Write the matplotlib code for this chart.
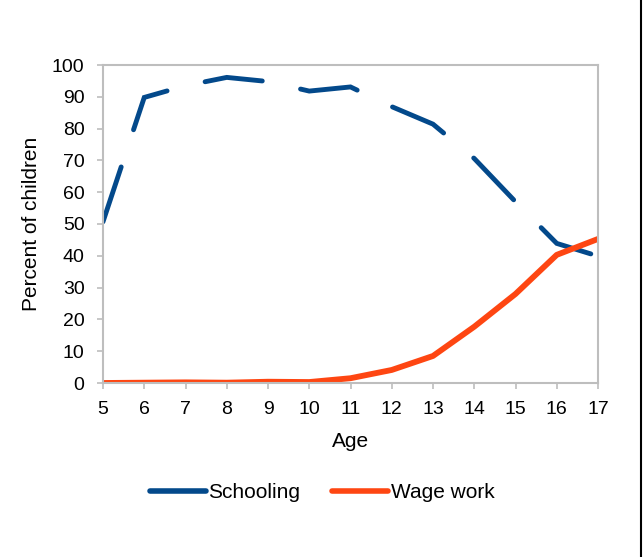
import matplotlib
matplotlib.use('Agg')
import matplotlib.pyplot as plt
from matplotlib.lines import Line2D

ages = [5, 6, 7, 8, 9, 10, 11, 12, 13, 14, 15, 16, 17]
schooling = [50.7, 89.8, 93.5, 96.1, 94.8, 91.8, 93.1, 86.9, 81.4, 70.6, 57.0, 43.9, 39.9]
wage_work = [0.0, 0.1, 0.2, 0.1, 0.4, 0.3, 1.5, 4.1, 8.5, 17.7, 28.0, 40.3, 45.3]

BLUE = '#03498B'
ORANGE = '#FE4612'
GRID = '#BEBEBE'

plt.rcParams['font.family'] = ['Liberation Sans', 'DejaVu Sans']
plt.rcParams['lines.scale_dashes'] = False

fig = plt.figure(figsize=(6.43, 5.57), dpi=100)
ax = fig.add_axes([103/643, 1 - 383/557, 495/643, 318/557])

ax.plot(ages, schooling, color=BLUE, lw=3.5, ls=(0, (41.6, 28.2)),
        dash_capstyle='round', dash_joinstyle='miter', label='Schooling')
ax.plot(ages, wage_work, color=ORANGE, lw=4.2, solid_capstyle='butt',
        label='Wage work')

ax.set_xlim(5, 17)
ax.set_ylim(0, 100)
ax.set_xticks(ages)
ax.set_yticks(range(0, 101, 10))
for s in ax.spines.values():
    s.set_color(GRID)
    s.set_linewidth(1.5)
ax.tick_params(axis='both', direction='out', length=4.3, width=1.2, color=GRID,
               labelsize=14, pad=9)
ax.set_ylabel('Percent of children', fontsize=15, labelpad=8)
ax.set_xlabel('Age', fontsize=15, labelpad=10)

handles = [Line2D([], [], color=BLUE, lw=4, solid_capstyle='round'),
           Line2D([], [], color=ORANGE, lw=4, solid_capstyle='round')]
fig.legend(handles, ['Schooling', 'Wage work'], loc='center',
           bbox_to_anchor=(322/643, 1 - 493/557), ncol=2, frameon=False,
           fontsize=15, handlelength=2.7, handletextpad=0.12, columnspacing=1.5)

# thin black edge at the right of the image
fig.add_artist(Line2D([641/643, 641/643], [0, 1], color='black', lw=1.5,
                      transform=fig.transFigure))

fig.savefig('out.png', dpi=100)
